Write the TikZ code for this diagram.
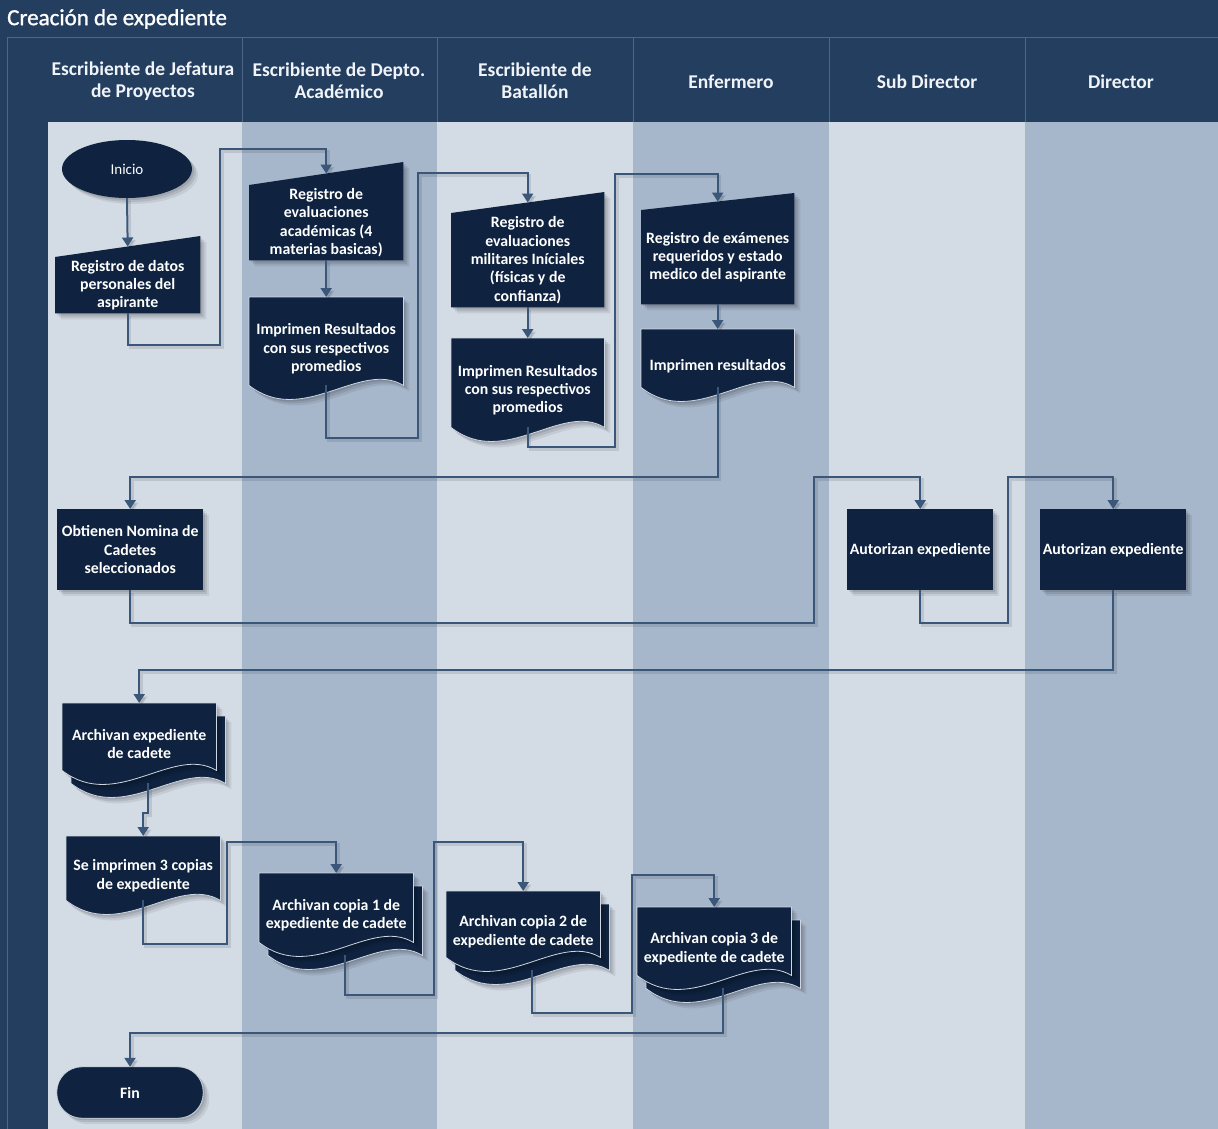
\documentclass[tikz,border=0pt]{standalone}
\usepackage{fontspec}
\setmainfont{Carlito}
\newfontfamily\titlefont[FakeBold=1.2]{Carlito}
\usetikzlibrary{arrows.meta,calc,shapes.geometric}

\definecolor{navy}{RGB}{36,62,95}
\definecolor{sepline}{RGB}{78,103,134}
\definecolor{lanelight}{RGB}{211,219,229}
\definecolor{lanedark}{RGB}{166,182,203}
\definecolor{boxfill}{RGB}{15,35,64}
\definecolor{flowline}{RGB}{58,86,120}
\definecolor{rim}{RGB}{205,214,226}
\definecolor{hdrtext}{RGB}{240,244,249}

\pgfdeclarelayer{lanes}
\pgfdeclarelayer{shapes}
\pgfsetlayers{lanes,shapes,main}

\newcommand{\boxfont}{\fontsize{15.8}{18.3}\selectfont\bfseries}
\newcommand{\hdrfont}{\fontsize{19.5}{22}\selectfont\bfseries}

\tikzset{
  box/.style={inner sep=0pt, align=center, text=white, font=\boxfont, anchor=north west},
  hdr/.style={inner sep=0pt, align=center, text=hdrtext, font=\hdrfont},
  softshadow/.style={
    preaction={draw=none, fill=black, opacity=0.07, transform canvas={shift={(6pt,-6pt)}}},
    preaction={draw=none, fill=black, opacity=0.09, transform canvas={shift={(4pt,-4pt)}}},
    preaction={draw=none, fill=black, opacity=0.10, transform canvas={shift={(2pt,-2pt)}}}},
  shapefill/.style={fill=boxfill, softshadow},
  docfill/.style={fill=boxfill, draw=rim, line width=0.8pt, softshadow},
  flow/.style={draw=flowline, line width=2pt, -{Triangle[width=11pt,length=9pt]},
    preaction={draw=black, opacity=0.10, line width=2.5pt, transform canvas={shift={(2.5pt,-2.5pt)}}}},
}

% manual input: slanted top rising to the right by #2
\newcommand{\inshape}[2]{%
  \fill[shapefill] ([yshift=#2]#1.north east) -- (#1.north west) -- (#1.south west) -- (#1.south east) -- cycle;
  \coordinate (#1-in) at ($(#1.north west)!0.5!([yshift=#2]#1.north east)$);}

% document: wavy bottom whose base line lies 15pt above the node's south side
\newcommand{\docshape}[3]{%
  \filldraw[docfill] ([xshift=#2,yshift=#3]#1.north west) -- ([xshift=#2,yshift=#3]#1.north east)
    -- ([xshift=#2,yshift=#3+15pt]#1.south east)
    .. controls ($([xshift=#2,yshift=#3+41pt]#1.south west)!0.72!([xshift=#2,yshift=#3+41pt]#1.south east)$)
       and ($([xshift=#2,yshift=#3-27pt]#1.south west)!0.35!([xshift=#2,yshift=#3-27pt]#1.south east)$)
    .. ([xshift=#2,yshift=#3+15pt]#1.south west) -- cycle;}

\newcommand{\singledoc}[1]{%
  \docshape{#1}{0pt}{0pt}
  \coordinate (#1-out) at ([yshift=15pt]#1.south);}

\newcommand{\multidoc}[1]{%
  \docshape{#1}{9pt}{-13pt}
  \docshape{#1}{0pt}{0pt}
  \coordinate (#1-out) at ([xshift=9pt,yshift=2pt]#1.south);}

\begin{document}
\begin{tikzpicture}[x=1pt,y=-1pt]
\useasboundingbox (0,0) rectangle (1218,1129);

% pool frame, title bar and lane headers
\begin{pgfonlayer}{lanes}
\fill[navy] (0,0) rectangle (1218,1129);
\fill[lanelight] (48,122) rectangle (242,1129);
\fill[lanedark]  (242,122) rectangle (437,1129);
\fill[lanelight] (437,122) rectangle (633,1129);
\fill[lanedark]  (633,122) rectangle (829,1129);
\fill[lanelight] (829,122) rectangle (1025,1129);
\fill[lanedark]  (1025,122) rectangle (1218,1129);
\draw[sepline, line width=0.8pt] (1218,37) -- (7,37) -- (7,1129);
\foreach \xx in {242,437,633,829,1025}
  \draw[sepline, line width=0.8pt] (\xx,37) -- (\xx,122);
\end{pgfonlayer}

\node[anchor=west, inner sep=0pt, text=white, font=\titlefont\fontsize{23}{25}\selectfont] (title) at (7,19) {Creación de expediente};

\node[hdr] (h1) at (143,81) {Escribiente de Jefatura\\de Proyectos};
\node[hdr] (h2) at (339,81) {Escribiente de Depto.\\Académico};
\node[hdr] (h3) at (535,81) {Escribiente de\\Batallón};
\node[hdr] (h4) at (731,82) {Enfermero};
\node[hdr] (h5) at (927,82) {Sub Director};
\node[hdr] (h6) at (1121,82) {Director};

% process steps
\node[ellipse, minimum width=130pt, minimum height=58pt, inner sep=0pt,
      text=white, font=\fontsize{15}{17}\selectfont] (inicio) at (127,169) {Inicio};

\node[box, minimum width=145pt, minimum height=56pt] (r2) at (55,257) {Registro de datos\\personales del\\aspirante};
\node[box, minimum width=154pt, minimum height=75pt] (r3) at (249,185) {Registro de\\evaluaciones\\académicas (4\\materias basicas)};
\node[box, minimum width=154pt, minimum height=103pt] (d4) at (249,297) {Imprimen Resultados\\con sus respectivos\\promedios};
\node[box, minimum width=153pt, minimum height=94pt] (r5) at (451,213) {Registro de\\evaluaciones\\militares Iníciales\\(físicas y de\\confianza)};
\node[box, minimum width=153pt, minimum height=104pt] (d6) at (451,338) {Imprimen Resultados\\con sus respectivos\\promedios};
\node[box, minimum width=153pt, minimum height=94pt] (r7) at (641,210) {Registro de exámenes\\requeridos y estado\\medico del aspirante};
\node[box, minimum width=153pt, minimum height=73pt] (d8) at (641,329) {Imprimen resultados};
\node[box, minimum width=146pt, minimum height=81pt] (r9) at (57,509) {Obtienen Nomina de\\Cadetes\\seleccionados};
\node[box, minimum width=146pt, minimum height=81pt] (r10) at (847,509) {Autorizan expediente};
\node[box, minimum width=146pt, minimum height=81pt] (r11) at (1040,509) {Autorizan expediente};
\node[box, minimum width=154pt, minimum height=82pt] (d12) at (62,703) {Archivan expediente\\de cadete};
\node[box, minimum width=154pt, minimum height=79pt] (d13) at (66,836) {Se imprimen 3 copias\\de expediente};
\node[box, minimum width=154pt, minimum height=84pt] (d14) at (259,873) {Archivan copia 1 de\\expediente de cadete};
\node[box, minimum width=154pt, minimum height=81pt] (d15) at (446,891) {Archivan copia 2 de\\expediente de cadete};
\node[box, minimum width=154pt, minimum height=83pt] (d16) at (637,907) {Archivan copia 3 de\\expediente de cadete};

\node[rectangle, minimum width=146pt, minimum height=51pt, inner sep=0pt,
      text=white, font=\boxfont] (fin) at (130,1092.5) {Fin};

% shapes behind the step texts
\begin{pgfonlayer}{shapes}
\fill[shapefill] (inicio.center) ellipse [x radius=65, y radius=29];
\inshape{r2}{21pt}
\inshape{r3}{23pt}
\inshape{r5}{21pt}
\inshape{r7}{17pt}
\singledoc{d4}
\singledoc{d6}
\singledoc{d8}
\singledoc{d13}
\fill[shapefill] (r9.north west) rectangle (r9.south east);
\fill[shapefill] (r10.north west) rectangle (r10.south east);
\fill[shapefill] (r11.north west) rectangle (r11.south east);
\multidoc{d12}
\multidoc{d14}
\multidoc{d15}
\multidoc{d16}
\filldraw[docfill, rounded corners=25pt] (fin.north west) rectangle (fin.south east);
\end{pgfonlayer}

% sequence flows
\draw[flow] (inicio.south) -- (r2-in);
\draw[flow] (r2.south) -- (r2.south |- 0,345) -- (220,345) -- (220,149) -- (r3-in |- 0,149) -- (r3-in);
\draw[flow] (r3.south) -- (d4.north);
\draw[flow] (d4-out) -- (d4-out |- 0,438) -- (418,438) -- (418,173) -- (r5-in |- 0,173) -- (r5-in);
\draw[flow] (r5.south) -- (d6.north);
\draw[flow] (d6-out) -- (d6-out |- 0,447) -- (615,447) -- (615,174) -- (r7-in |- 0,174) -- (r7-in);
\draw[flow] (r7.south) -- (d8.north);
\draw[flow] (d8-out) -- (d8-out |- 0,477) -- (r9.north |- 0,477) -- (r9.north);
\draw[flow] (r9.south) -- (r9.south |- 0,623) -- (814,623) -- (814,477) -- (r10.north |- 0,477) -- (r10.north);
\draw[flow] (r10.south) -- (r10.south |- 0,623) -- (1008,623) -- (1008,477) -- (r11.north |- 0,477) -- (r11.north);
\draw[flow] (r11.south) -- (r11.south |- 0,670) -- (d12.north |- 0,670) -- (d12.north);
\draw[flow] (d12-out) -- (d12-out |- 0,813) -- (d13.north |- 0,813) -- (d13.north);
\draw[flow] (d13-out) -- (d13-out |- 0,944) -- (227,944) -- (227,842) -- (d14.north |- 0,842) -- (d14.north);
\draw[flow] (d14-out) -- (d14-out |- 0,995) -- (434,995) -- (434,842) -- (d15.north |- 0,842) -- (d15.north);
\draw[flow] (d15-out) -- (d15-out |- 0,1013) -- (632,1013) -- (632,875) -- (d16.north |- 0,875) -- (d16.north);
\draw[flow] (d16-out) -- (d16-out |- 0,1033) -- (fin.north |- 0,1033) -- (fin.north);

\end{tikzpicture}
\end{document}
